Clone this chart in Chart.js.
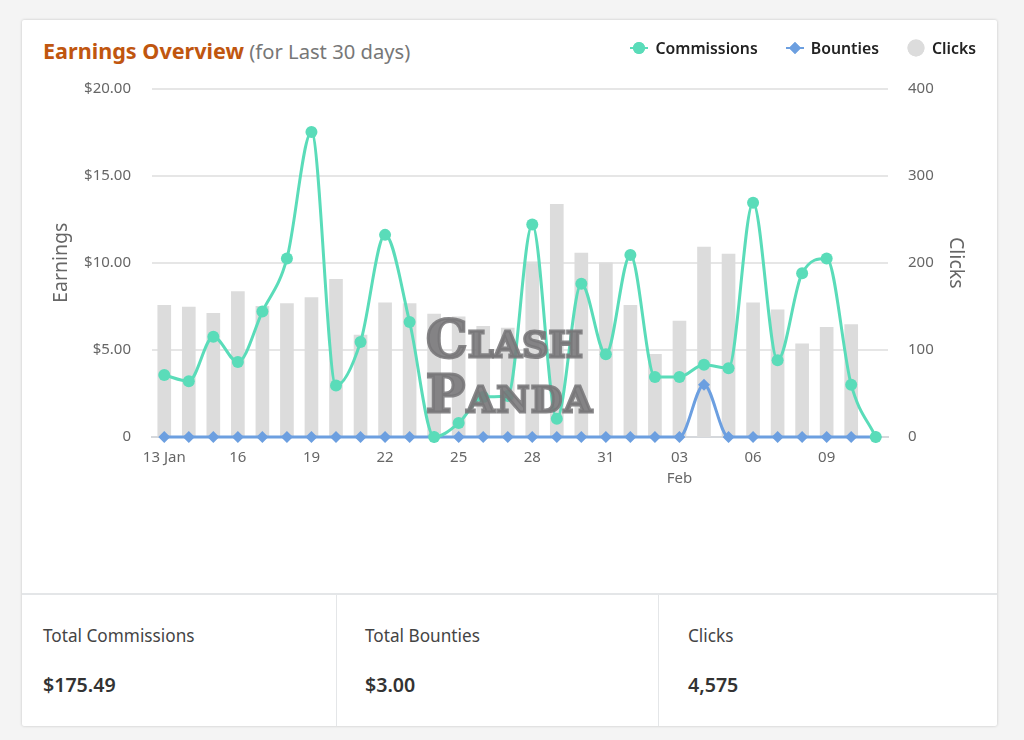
<!DOCTYPE html>
<html>
<head>
<meta charset="UTF-8">
<script src="https://cdn.jsdelivr.net/npm/chart.js@4/dist/chart.umd.min.js"></script>
<title>Earnings Overview</title>
<style>
	html, body { margin: 0; padding: 0; width: 1024px; height: 740px; overflow: hidden; background: #f4f4f4; font-family: "Noto Sans", "Open Sans", sans-serif; }
	.card { position: absolute; left: 22px; top: 20px; width: 975px; height: 706px; background: #fff; box-shadow: 0 0 3px rgba(0,0,0,.2); border-radius: 2px; }
	.title { position: absolute; left: 21px; top: 16px; font-size: 20.2px; line-height: 30px; color: #777; white-space: nowrap; }
	.title b { color: #c0560f; font-weight: 700; font-size: 21.6px; }
	.legend { position: absolute; top: 16px; right: 21px; display: flex; font-size: 15.8px; font-weight: 600; line-height: 24px; color: #222; }
	.legend div { display: flex; align-items: center; margin-left: 28px; }
	.legend canvas { margin-right: 7px; }
	#chartBox { position: absolute; left: 0; top: 37px; width: 975px; height: 442px; }
	.stats { position: absolute; left: 0; top: 573px; width: 975px; height: 133px; border-top: 2px solid #e4e6e8; display: flex; box-sizing: border-box; }
	.stat { width: 322px; box-sizing: border-box; padding: 29px 0 0 28px; border-right: 1px solid #e4e6e8; font-size: 17.2px; line-height: 24px; color: #444; }
	.stat:first-child { width: 315px; padding-left: 21px; }
	.stat:last-child { width: 338px; padding-left: 29px; border-right: 0; }
	.stat b { display: block; margin-top: 25px; font-size: 19.6px; font-weight: 600; color: #333; }
	.mark { position: absolute; left: 404px; top: 291px; font-family: "DejaVu Serif", serif; font-weight: 700; font-variant: small-caps; font-size: 52px; line-height: 55px; letter-spacing: 0.5px; color: rgba(120,118,121,.88); -webkit-text-stroke: 3px rgba(120,118,121,.88); pointer-events: none; white-space: nowrap; }
	.mark span { letter-spacing: 1.7px; }
</style>
</head>
<body>
	<div class="card">
		<div class="title"><b>Earnings Overview</b> (for Last 30 days)</div>
		<div id="chartBox"><canvas id="earningsChart" width="975" height="442"></canvas></div>
		<div class="legend" id="legend"></div>
		<div class="mark">Clash<br><span>Panda</span></div>
		<div class="stats">
			<div class="stat">Total Commissions<b>$175.49</b></div>
			<div class="stat">Total Bounties<b>$3.00</b></div>
			<div class="stat">Clicks<b>4,575</b></div>
		</div>
	</div>
	<script>
		var days = ["13 Jan","14 Jan","15 Jan","16 Jan","17 Jan","18 Jan","19 Jan","20 Jan","21 Jan","22 Jan","23 Jan","24 Jan","25 Jan","26 Jan","27 Jan","28 Jan","29 Jan","30 Jan","31 Jan","01 Feb","02 Feb","03 Feb","04 Feb","05 Feb","06 Feb","07 Feb","08 Feb","09 Feb","10 Feb","11 Feb"];
		var xTickLabels = ["13 Jan","","","16","","","19","","","22","","","25","","","28","","","31","","",["03","Feb"],"","","06","","","09","",""];
		var commissions = [3.56,3.2,5.75,4.3,7.2,10.25,17.5,2.95,5.45,11.6,6.6,0,0.8,2.3,2.35,12.2,1.05,8.8,4.75,10.45,3.45,3.45,4.15,3.95,13.45,4.4,9.4,10.25,3.0,0];
		var bounties = [0,0,0,0,0,0,0,0,0,0,0,0,0,0,0,0,0,0,0,0,0,0,3,0,0,0,0,0,0,0];
		var clicks = [151,149,142,167,150,153,160,181,117,154,153,141,138,127,125,201,267,211,200,151,95,133,218,210,154,146,107,126,129,0];
		var earningTicks = {0:"0",5:"$5.00",10:"$10.00",15:"$15.00",20:"$20.00"};

		var green = "#5adcb9", blue = "#6c9fe0", grey = "#dcdcdc", axisText = "#666";
		var tickFont = { family: "'Noto Sans'", size: 15, lineHeight: 1.4 };
		var titleFont = { family: "'Noto Sans'", size: 19.5 };

		// 圖例
		function addLegend(name, color, style) {
			var item = document.createElement("div");
			var c = document.createElement("canvas");
			c.width = 18; c.height = 20;
			var ctx = c.getContext("2d");
			ctx.fillStyle = ctx.strokeStyle = color;
			if (style != "dot") {
				ctx.lineWidth = 2;
				ctx.beginPath(); ctx.moveTo(0, 10); ctx.lineTo(18, 10); ctx.stroke();
			}
			Chart.helpers.drawPoint(ctx, { pointStyle: style == "dot" ? "circle" : style, radius: style == "dot" ? 8.5 : 6, borderWidth: 0 }, 9, 10);
			ctx.fill();
			item.appendChild(c);
			item.appendChild(document.createTextNode(name));
			document.getElementById("legend").appendChild(item);
		}
		addLegend("Commissions", green, "circle");
		addLegend("Bounties", blue, "rectRot");
		addLegend("Clicks", grey, "dot");

		new Chart(document.getElementById("earningsChart"), {
			data: {
				labels: days,
				datasets: [ {
					type: "line", label: "Commissions", data: commissions, yAxisID: "y", order: 1,
					borderColor: green, backgroundColor: green, borderWidth: 3,
					pointStyle: "circle", pointRadius: 6, pointBorderWidth: 0,
					cubicInterpolationMode: "monotone", clip: false
				}, {
					type: "line", label: "Bounties", data: bounties, yAxisID: "y", order: 2,
					borderColor: blue, backgroundColor: blue, borderWidth: 3,
					pointStyle: "rectRot", pointRadius: 6, pointBorderWidth: 0,
					cubicInterpolationMode: "monotone", clip: false
				}, {
					type: "bar", label: "Clicks", data: clicks, yAxisID: "y1", order: 3,
					backgroundColor: grey, barThickness: 13
				} ]
			},
			options: {
				responsive: false, animation: false,
				layout: { padding: { top: 5 } },
				plugins: { legend: { display: false }, title: { display: false }, tooltip: { enabled: false } },
				scales: {
					x: {
						grid: { display: false, drawTicks: false },
						border: { color: "#d5d8dc", width: 2 },
						ticks: { autoSkip: false, maxRotation: 0, padding: 10, color: axisText, font: tickFont,
							callback: function(v, i) { return xTickLabels[i]; } }
					},
					y: {
						position: "left", min: 0, max: 20,
						afterFit: function(s) { s.width = 130; },
						grid: { color: "#e6e6e6", lineWidth: 2, drawTicks: false },
						border: { display: false },
						ticks: { stepSize: 5, padding: 21, color: axisText, font: tickFont,
							callback: function(v) { return earningTicks[v]; } },
						title: { display: true, text: "Earnings", color: axisText, font: titleFont, padding: { top: 28, bottom: 0 } }
					},
					y1: {
						position: "right", min: 0, max: 400,
						afterFit: function(s) { s.width = 109; },
						grid: { display: false, drawTicks: false },
						border: { display: false },
						ticks: { stepSize: 100, padding: 20, color: axisText, font: tickFont },
						title: { display: true, text: "Clicks", color: axisText, font: titleFont, padding: { top: 30, bottom: 0 } }
					}
				}
			}
		});
	</script>
</body>
</html>
